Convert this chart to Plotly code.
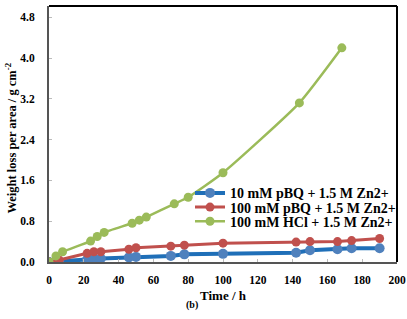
import plotly.graph_objects as go

# Data
blue_x = [0, 5.8, 21.9, 25.8, 29.8, 45.9, 50, 70, 77.8, 100, 142, 150, 165.8, 173.9, 190]
blue_y = [0, 0.01, 0.05, 0.065, 0.07, 0.09, 0.10, 0.12, 0.15, 0.16, 0.18, 0.23, 0.25, 0.27, 0.27]

red_x = [0, 5.8, 21.9, 25.8, 29.8, 45.9, 50, 70, 77.8, 100, 142, 150, 165.8, 173.9, 190]
red_y = [0, 0.04, 0.17, 0.20, 0.20, 0.25, 0.28, 0.31, 0.33, 0.37, 0.39, 0.40, 0.40, 0.42, 0.46]

green_x = [0, 4, 7.8, 23.9, 27.7, 31.7, 47.8, 51.9, 55.9, 72, 80, 100, 143.9, 168.3]
green_y = [0, 0.12, 0.20, 0.41, 0.50, 0.58, 0.76, 0.82, 0.88, 1.14, 1.27, 1.75, 3.12, 4.20]

names = ["10 mM pBQ + 1.5 M Zn2+", "100 mM pBQ + 1.5 M Zn2+", "100 mM HCl + 1.5 M Zn2+"]
y_ticks = [0.0, 0.8, 1.6, 2.4, 3.2, 4.0, 4.8]
x_ticks = [0, 20, 40, 60, 80, 100, 120, 140, 160, 180, 200]

SERIF = "Liberation Serif"

fig = go.Figure()
fig.add_trace(go.Scatter(x=blue_x, y=blue_y, name=names[0], mode="lines+markers",
                         legend="legend",
                         line=dict(color="#1F6FB8", width=4),
                         marker=dict(color="#4F81BD", size=10)))
fig.add_trace(go.Scatter(x=red_x, y=red_y, name=names[1], mode="lines+markers",
                         legend="legend2",
                         line=dict(color="#C0504D", width=3),
                         marker=dict(color="#C0504D", size=9)))
fig.add_trace(go.Scatter(x=green_x, y=green_y, name=names[2], mode="lines+markers",
                         legend="legend3",
                         line=dict(color="#9BBB59", width=2.5, shape="spline", smoothing=0.5),
                         marker=dict(color="#9BBB59", size=9)))

leg_font = dict(family=SERIF, size=14, color="black", weight="bold")
def leg(ypix):
    return dict(x=(190 - 49) / 348, y=(262 - ypix) / 256, xanchor="left", yanchor="middle",
                bgcolor="rgba(255,255,255,0)", borderwidth=0, font=leg_font, itemwidth=30)

fig.update_layout(
    width=407, height=319,
    margin=dict(l=49, r=10, t=6, b=57, autoexpand=False),
    paper_bgcolor="white", plot_bgcolor="white",
    font=dict(family=SERIF, color="black"),
    showlegend=True,
    legend=leg(193.3),
    legend2=leg(207.5),
    legend3=leg(221.7),
    xaxis=dict(range=[0, 200], tickvals=x_ticks, ticks="inside", ticklen=3,
               tickcolor="#bbbbbb", showgrid=False, zeroline=False,
               showline=True, linecolor="#555555", linewidth=2,
               tickfont=dict(family=SERIF, size=11.5, weight="bold"),
               ticklabelstandoff=6,
               title=dict(text="<b>Time / h</b>", font=dict(family=SERIF, size=13), standoff=6)),
    yaxis=dict(range=[0, 5.02], tickvals=y_ticks, tickformat=".1f", ticks="inside", ticklen=3,
               tickcolor="#bbbbbb", showgrid=False, zeroline=False,
               showline=True, linecolor="#555555", linewidth=2,
               tickfont=dict(family=SERIF, size=11.5, weight="bold"),
               ticklabelstandoff=10),
    shapes=[dict(type="line", xref="paper", yref="paper", x0=0, x1=1, y0=1, y1=1,
                 line=dict(color="black", width=2)),
            dict(type="line", xref="paper", yref="paper", x0=1, x1=1, y0=0, y1=1,
                 line=dict(color="black", width=2))],
    annotations=[
        dict(text="<b>(b)</b>", xref="paper", yref="paper",
             x=(192 - 49) / 348, y=-(313 - 262) / 256, showarrow=False,
             font=dict(family=SERIF, size=10)),
        dict(text="<b>Weight loss per area / g cm<sup>-2</sup></b>", xref="paper", yref="paper",
             x=(10 - 49) / 348, y=(262 - 138.5) / 256, xanchor="center", yanchor="middle",
             textangle=-90, showarrow=False, font=dict(family=SERIF, size=12.5)),
    ],
)

fig.write_html("out.html")
